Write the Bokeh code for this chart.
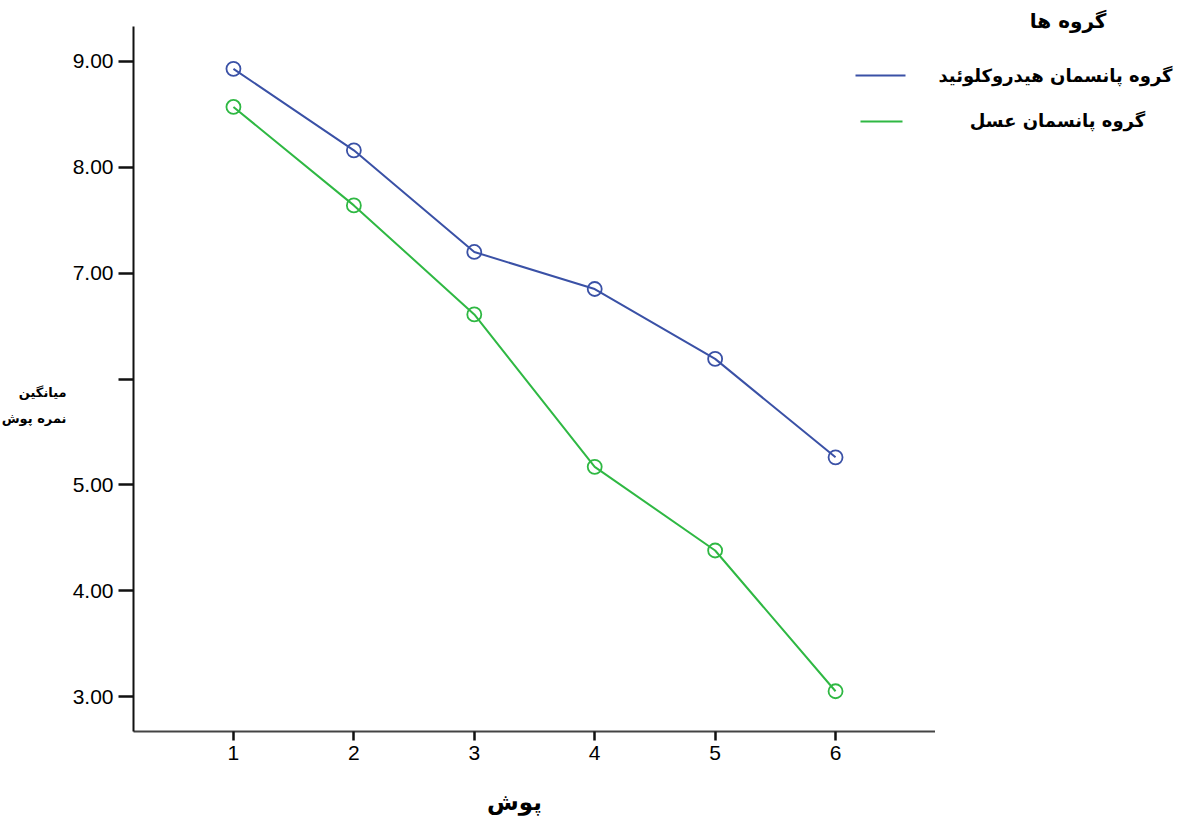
from bokeh.plotting import figure
from bokeh.layouts import row
from bokeh.models import Label, BoxAnnotation, Range1d, FixedTicker, NumeralTickFormatter, Title
from bokeh.embed import file_html
from bokeh.resources import INLINE

sessions = [1, 2, 3, 4, 5, 6]
hydrocolloid = [8.93, 8.16, 7.20, 6.85, 6.19, 5.26]
honey = [8.57, 7.64, 6.61, 5.17, 4.38, 3.05]
y_ticks = [3, 4, 5, 6, 7, 8, 9]
series_names = ["گروه پانسمان هیدروکلوئید", "گروه پانسمان عسل"]
legend_title = "گروه ها"
x_title = "پوش"
y_title_lines = ["میانگین", "نمره پوش"]

BLUE = "#3a51a6"
GREEN = "#2fb843"
FA = "DejaVu Sans"
H = 820


def blank(width):
    f = figure(width=width, height=H, output_backend="svg", toolbar_location=None,
               x_axis_type=None, y_axis_type=None, x_range=Range1d(0, 1), y_range=Range1d(0, 1),
               min_border=0)
    f.outline_line_color = None
    f.grid.visible = False
    return f


# left strip: y title (frame is aligned with the main plot frame)
left = blank(67)
for txt, yy in zip(y_title_lines, [339, 313]):
    left.add_layout(Label(x=66, y=yy, x_units="screen", y_units="screen", text=txt,
                          text_font=FA, text_font_style="bold", text_font_size="13px",
                          text_align="right", text_baseline="middle", text_color="black"))

# main chart
p = figure(width=868, height=H, output_backend="svg", toolbar_location=None,
           x_range=Range1d(0.17, 6.83), y_range=Range1d(2.67, 9.33),
           min_border_left=66, min_border_right=0, min_border_top=26, min_border_bottom=89)
p.outline_line_color = None
p.grid.visible = False

p.line(sessions, hydrocolloid, line_color=BLUE, line_width=2)
p.scatter(sessions, hydrocolloid, marker="circle", size=14, line_color=BLUE, fill_alpha=0, line_width=1.8)
p.line(sessions, honey, line_color=GREEN, line_width=2)
p.scatter(sessions, honey, marker="circle", size=14, line_color=GREEN, fill_alpha=0, line_width=1.8)

p.xaxis.ticker = FixedTicker(ticks=sessions)
p.yaxis.ticker = FixedTicker(ticks=y_ticks)
p.yaxis.formatter = NumeralTickFormatter(format="0.00")
p.yaxis.major_label_overrides = {6: ""}
for ax in (p.xaxis, p.yaxis):
    ax.minor_tick_line_color = None
    ax.major_tick_in = 0
    ax.major_label_text_font = "Liberation Sans"
    ax.major_label_text_font_size = "21px"
    ax.major_label_text_color = "black"
    ax.axis_line_width = 2
    ax.major_tick_line_width = 2.5
    ax.major_tick_line_color = "#111111"
p.xaxis.axis_line_color = "#444444"
p.yaxis.axis_line_color = "#111111"
p.xaxis.major_tick_out = 9
p.yaxis.major_tick_out = 15
p.xaxis.major_label_standoff = 5
p.yaxis.major_label_standoff = 5

p.xaxis.axis_label = x_title + "\u00a0" * 5
p.xaxis.axis_label_text_font = FA
p.xaxis.axis_label_text_font_style = "bold"
p.xaxis.axis_label_text_font_size = "23px"
p.xaxis.axis_label_text_color = "black"
p.xaxis.axis_label_standoff = 26

# legend line samples (inside the plot frame)
for col, ly, lx0, lx1 in zip([BLUE, GREEN], [656, 610], [722, 727], [772, 769]):
    p.add_layout(BoxAnnotation(left=lx0, right=lx1, bottom=ly - 1, top=ly + 1,
                               left_units="screen", right_units="screen",
                               bottom_units="screen", top_units="screen",
                               fill_color=col, fill_alpha=1, line_color=None))

# right strip: legend texts
right = blank(257)
right.add_layout(Title(text=legend_title, align="right", offset=86, standoff=-13,
                       vertical_align="bottom", text_font=FA, text_font_style="bold",
                       text_font_size="20px", text_color="black"), "above")
for name, cx, ly in zip(series_names, [120, 122], [656, 611]):
    right.add_layout(Label(x=cx, y=ly, x_units="screen", y_units="screen", text=name,
                           text_font=FA, text_font_style="bold", text_font_size="18px",
                           text_align="center", text_baseline="middle", text_color="black"))

layout = row(left, p, right, spacing=0)
open("out.html", "w").write(file_html(layout, INLINE))
